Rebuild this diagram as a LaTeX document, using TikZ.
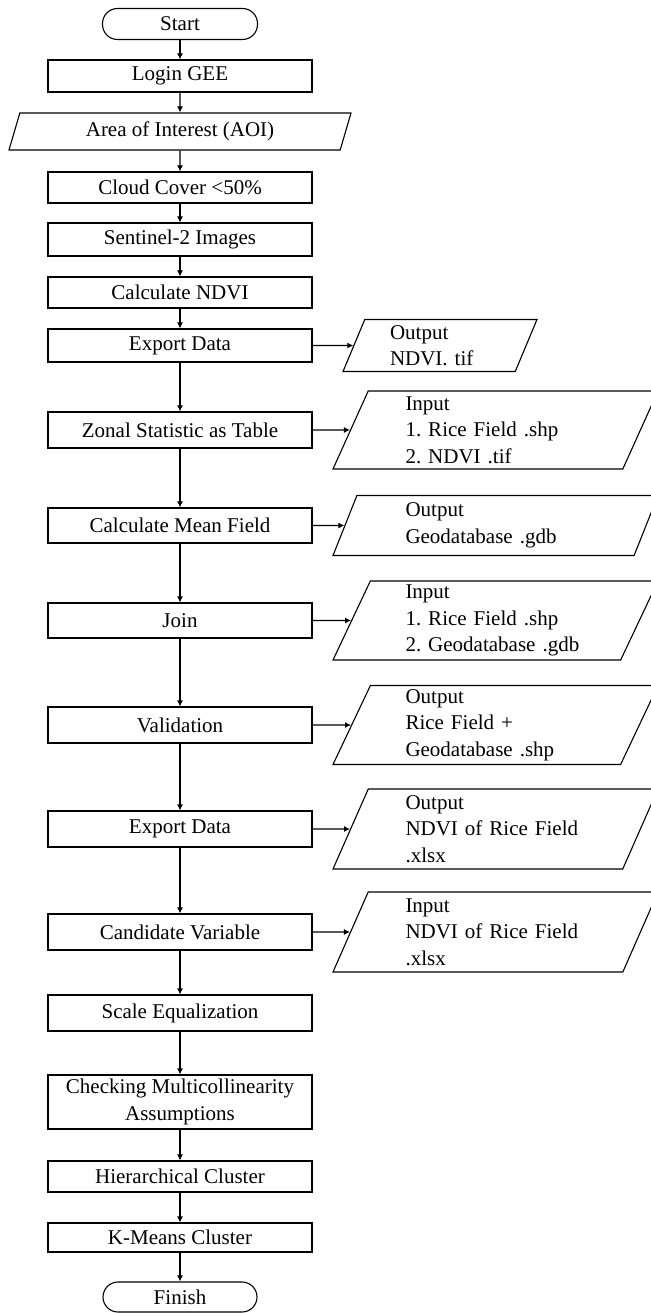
\documentclass[tikz,border=0pt]{standalone}
\usepackage{fontspec}
\setmainfont{Liberation Serif}
\usetikzlibrary{shapes.geometric,arrows.meta}
\frenchspacing
\tikzset{
  process/.style={draw, line width=1.1pt, minimum width=264pt, minimum height=33pt, inner sep=1pt, align=center},
  terminal/.style={draw, line width=1.1pt, rounded corners=15pt, minimum width=155pt, minimum height=31pt},
  data/.style={draw, line width=1.1pt, trapezium, trapezium left angle=63, trapezium right angle=117,
    trapezium stretches body=true, inner xsep=2pt, inner ysep=1pt},
  io/.style={data, minimum width=325pt, text width=180pt, align=left},
  arrow/.style={line width=1.1pt, -{Latex[length=6pt,width=6pt]}}
}
\begin{document}
\begin{tikzpicture}[x=1pt, y=1pt, every node/.style={font=\fontsize{21}{26.5}\selectfont}]
\useasboundingbox (0,0) rectangle (650,-1313);
\def \mx {180}
\def \sx {495.5}
% Main flow
\node [terminal] (start) at (\mx,-24) {Start};
\node [process, minimum height=32pt] (login) at (\mx,-76) {Login GEE};
\node [data, minimum width=342pt, minimum height=37pt] (aoi) at (\mx,-131.5) {Area of Interest (AOI)};
\node [process, minimum height=31pt] (cloud) at (\mx,-187.5) {Cloud Cover <50\%};
\node [process] (sentinel) at (\mx,-239.5) {Sentinel-2 Images};
\node [process, minimum height=31pt] (ndvi) at (\mx,-292.5) {Calculate NDVI};
\node [process] (exportA) at (\mx,-345.5) {Export Data};
\node [process, minimum height=36pt] (zonal) at (\mx,-430) {Zonal Statistic as Table};
\node [process, minimum height=35pt] (mean) at (\mx,-525.5) {Calculate Mean Field};
\node [process, minimum height=35pt] (join) at (\mx,-620.5) {Join};
\node [process, minimum height=36pt] (valid) at (\mx,-725) {Validation};
\node [process, minimum height=36pt] (exportB) at (\mx,-829) {Export Data};
\node [process, minimum height=36pt] (cand) at (\mx,-932) {Candidate Variable};
\node [process, minimum height=36pt] (scale) at (\mx,-1013) {Scale Equalization};
\node [process, minimum height=54pt] (check) at (\mx,-1102) {Checking Multicollinearity\\Assumptions};
\node [process, minimum height=31pt] (hier) at (\mx,-1176.5) {Hierarchical Cluster};
\node [process, minimum height=29pt] (kmeans) at (\mx,-1237.5) {K-Means Cluster};
\node [terminal, minimum height=30pt, minimum width=154pt] (finish) at (\mx,-1297) {Finish};
% Data
\node [io, minimum width=194pt, minimum height=52pt, text width=100pt] (outA) at (440,-345.5) {Output\\NDVI. tif};
\node [io, minimum height=78pt] (inA) at (\sx,-430) {Input\\1. Rice Field .shp\\2. NDVI .tif};
\node [io, minimum height=60pt] (outB) at (\sx,-525.5) {Output\\Geodatabase .gdb};
\node [io, minimum height=79pt] (inB) at (\sx,-620.5) {Input\\1. Rice Field .shp\\2. Geodatabase .gdb};
\node [io, minimum height=79pt] (outC) at (\sx,-725) {Output\\Rice Field +\\Geodatabase .shp};
\node [io, minimum height=80pt] (outD) at (\sx,-829) {Output\\NDVI of Rice Field\\.xlsx};
\node [io, minimum height=80pt] (inC) at (\sx,-932) {Input\\NDVI of Rice Field\\.xlsx};
% Arrows
\draw [arrow] (start) -- (login);
\draw [arrow] (login) -- (aoi);
\draw [arrow] (aoi) -- (cloud);
\draw [arrow] (cloud) -- (sentinel);
\draw [arrow] (sentinel) -- (ndvi);
\draw [arrow] (ndvi) -- (exportA);
\draw [arrow] (exportA) -- (zonal);
\draw [arrow] (zonal) -- (mean);
\draw [arrow] (mean) -- (join);
\draw [arrow] (join) -- (valid);
\draw [arrow] (valid) -- (exportB);
\draw [arrow] (exportB) -- (cand);
\draw [arrow] (cand) -- (scale);
\draw [arrow] (scale) -- (check);
\draw [arrow] (check) -- (hier);
\draw [arrow] (hier) -- (kmeans);
\draw [arrow] (kmeans) -- (finish);
\draw [arrow] (exportA) -- (outA);
\draw [arrow] (zonal) -- (inA);
\draw [arrow] (mean) -- (outB);
\draw [arrow] (join) -- (inB);
\draw [arrow] (valid) -- (outC);
\draw [arrow] (exportB) -- (outD);
\draw [arrow] (cand) -- (inC);
\end{tikzpicture}
\end{document}
